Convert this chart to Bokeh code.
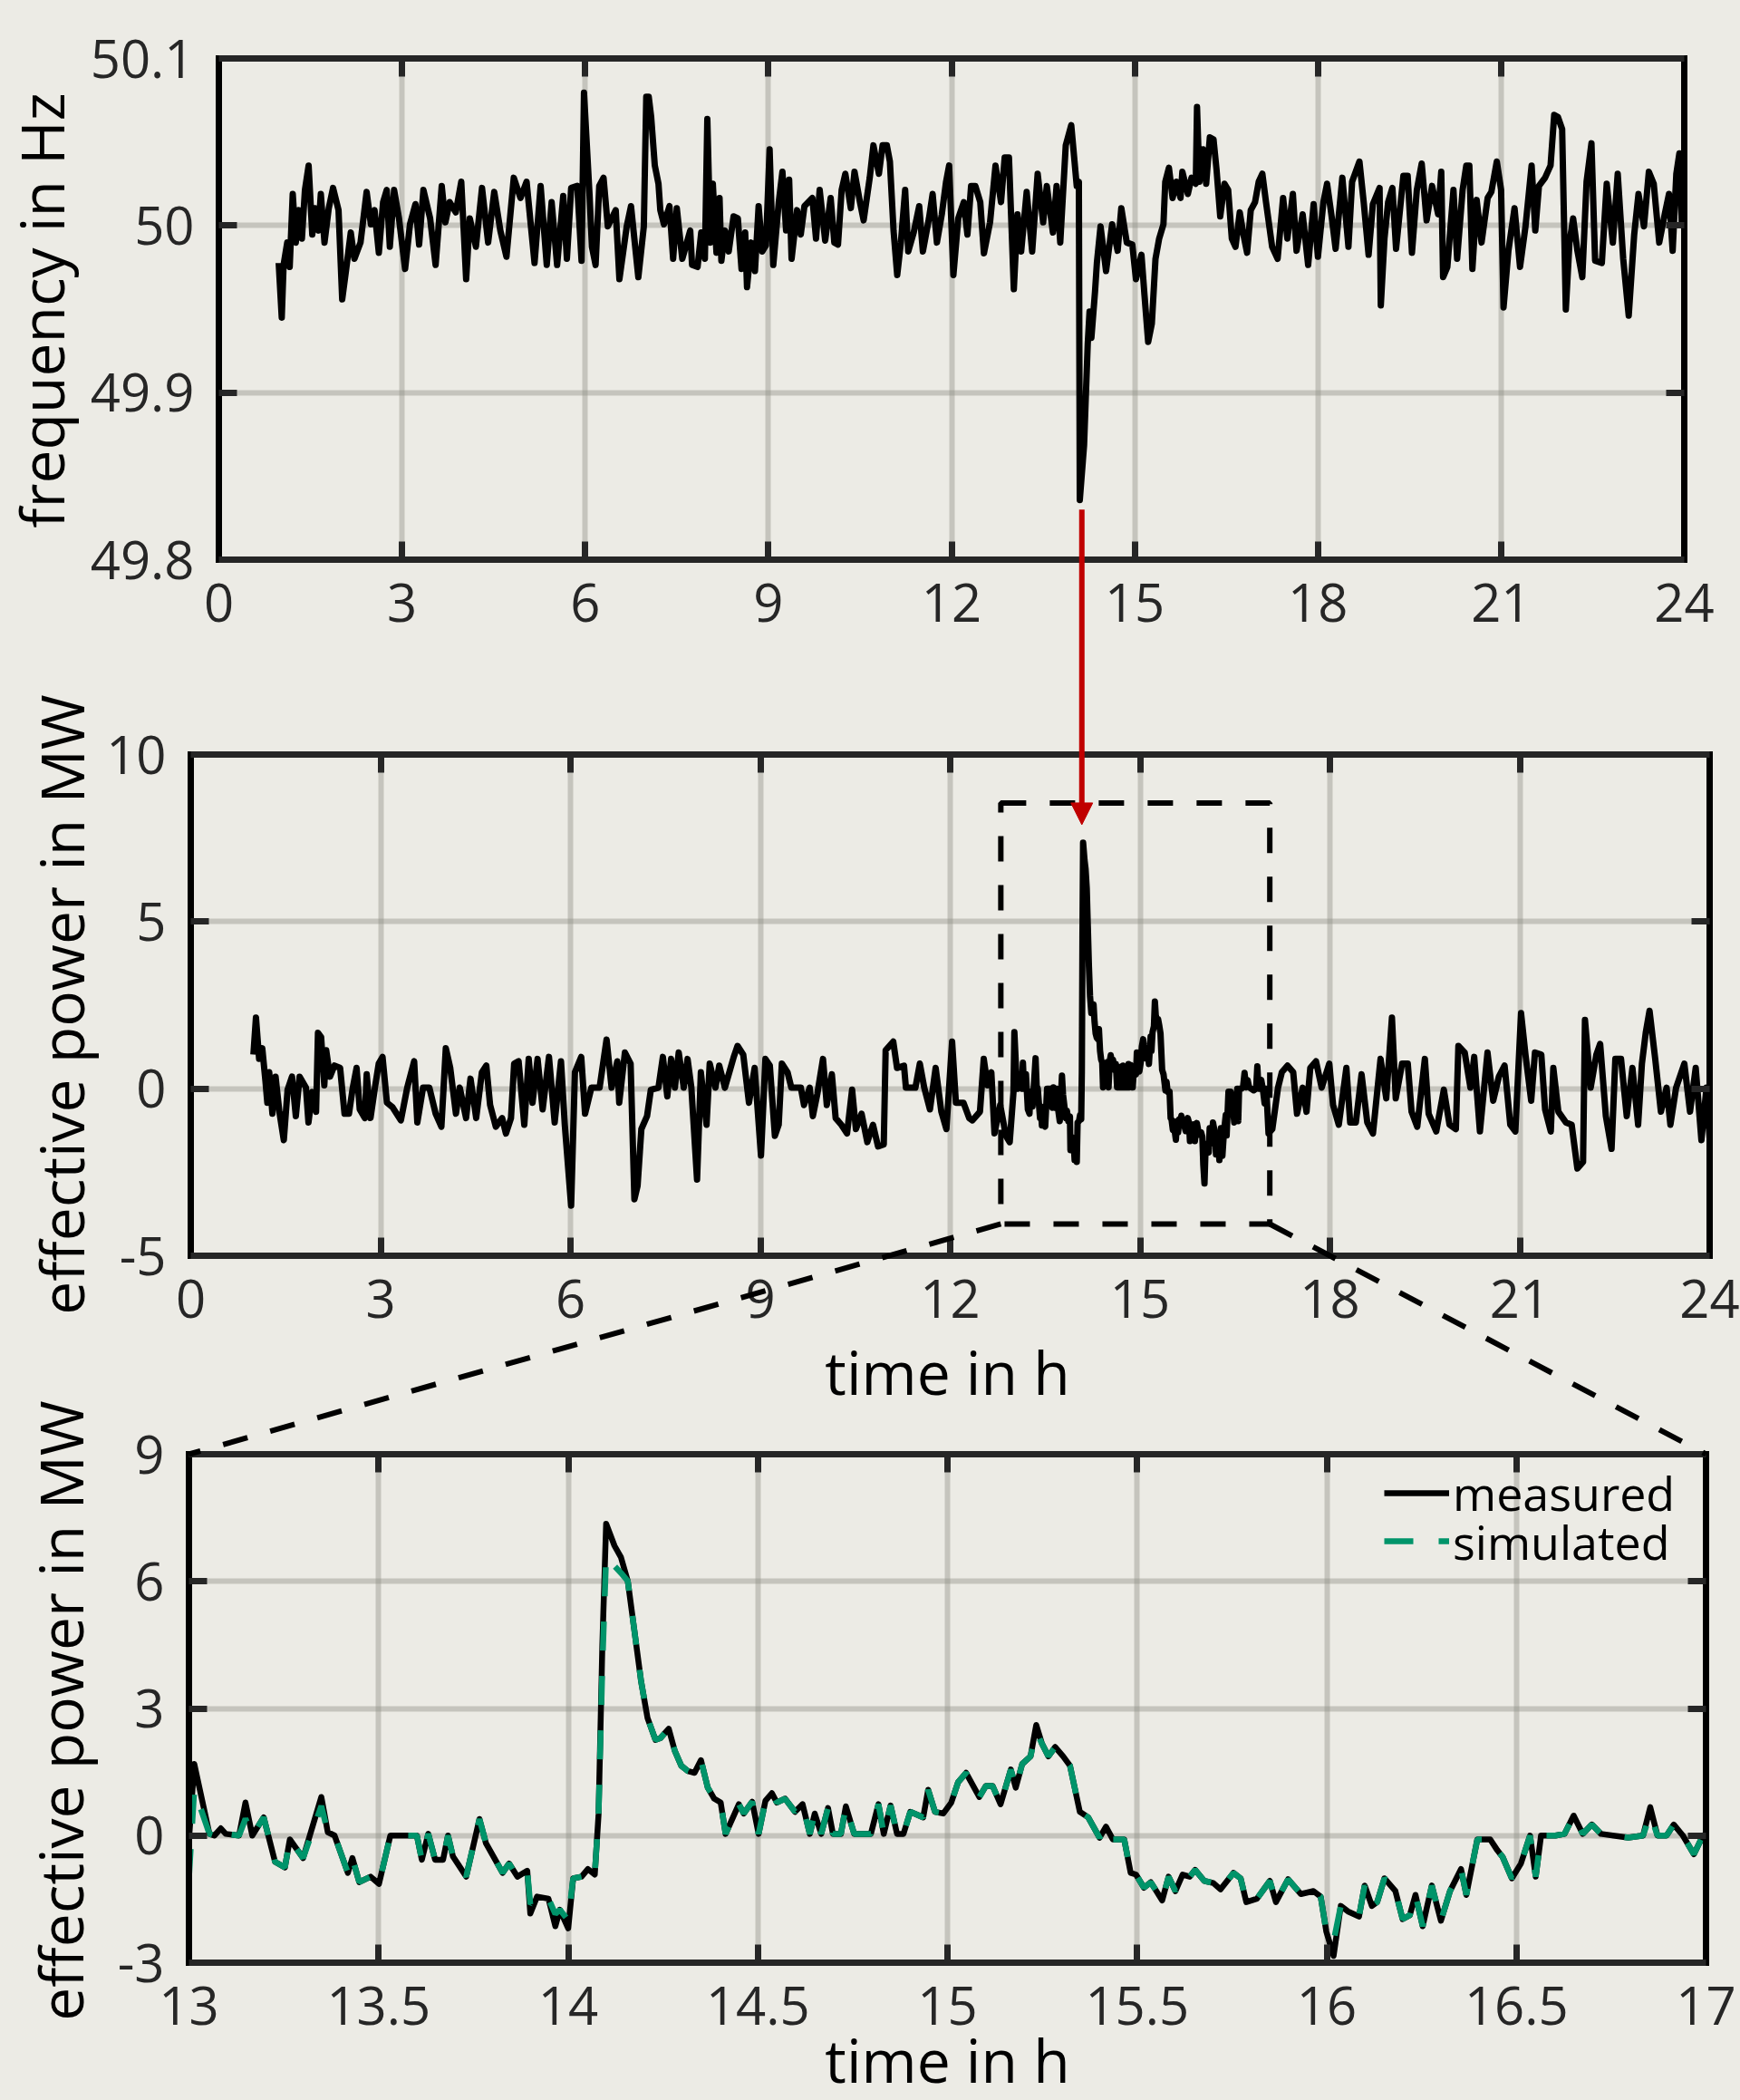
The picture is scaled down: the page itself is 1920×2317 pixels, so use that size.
import math
from bokeh.plotting import figure
from bokeh.models import (Range1d, LinearAxis, FixedTicker, Grid, Arrow, NormalHead,
                          Legend, LegendItem, CustomJSTickFormatter, Label)
from bokeh.embed import file_html
from bokeh.resources import INLINE

# ---------------------------------------------------------------- data
# grid frequency over the day (hour, Hz)
FREQ = [
 (0.98, 49.9776), (1.03, 49.9449), (1.06, 49.9764), (1.12, 49.9898), (1.16, 49.9752), (1.21, 50.0189),
 (1.26, 49.9898), (1.31, 50.0092), (1.36, 49.9922), (1.41, 50.0213), (1.47, 50.0359), (1.53, 49.9946),
 (1.58, 50.0104), (1.63, 49.9970), (1.67, 50.0189), (1.73, 49.9898), (1.80, 50.0104), (1.87, 50.0225),
 (1.96, 50.0092), (2.02, 49.9558), (2.09, 49.9752), (2.16, 49.9958), (2.22, 49.9801), (2.32, 49.9898),
 (2.42, 50.0201), (2.49, 50.0007), (2.55, 50.0092), (2.62, 49.9837), (2.69, 50.0140), (2.75, 50.0213),
 (2.80, 49.9873), (2.87, 50.0213), (2.95, 50.0043), (3.05, 49.9740), (3.13, 50.0007), (3.22, 50.0128),
 (3.28, 49.9886), (3.35, 50.0213), (3.46, 50.0043), (3.55, 49.9764), (3.65, 50.0237), (3.71, 50.0019),
 (3.78, 50.0140), (3.88, 50.0079), (3.97, 50.0262), (4.05, 49.9679), (4.11, 50.0043), (4.21, 49.9873),
 (4.31, 50.0225), (4.41, 49.9898), (4.51, 50.0201), (4.61, 49.9970), (4.71, 49.9813), (4.83, 50.0286),
 (4.94, 50.0165), (5.04, 50.0262), (5.17, 49.9776), (5.27, 50.0237), (5.37, 49.9764), (5.45, 50.0140),
 (5.54, 49.9764), (5.64, 50.0177), (5.70, 49.9801), (5.77, 50.0225), (5.87, 50.0237), (5.94, 49.9789),
 (5.98, 50.0795), (6.07, 50.0189), (6.11, 49.9873), (6.17, 49.9764), (6.23, 50.0237), (6.30, 50.0286),
 (6.37, 49.9995), (6.50, 50.0092), (6.56, 49.9679), (6.68, 49.9995), (6.75, 50.0116), (6.87, 49.9691),
 (6.96, 49.9995), (7.00, 50.0771), (7.04, 50.0771), (7.08, 50.0650), (7.14, 50.0359), (7.20, 50.0250),
 (7.23, 50.0092), (7.29, 50.0007), (7.38, 50.0116), (7.44, 49.9801), (7.50, 50.0104), (7.59, 49.9801),
 (7.72, 49.9970), (7.75, 49.9764), (7.84, 49.9752), (7.90, 49.9958), (7.96, 49.9801), (8.00, 50.0638),
 (8.05, 49.9898), (8.09, 50.0250), (8.15, 49.9837), (8.20, 50.0165), (8.23, 49.9789), (8.29, 49.9970),
 (8.35, 49.9845), (8.43, 50.0055), (8.50, 50.0043), (8.56, 49.9740), (8.62, 49.9958), (8.65, 49.9631),
 (8.72, 49.9898), (8.78, 49.9728), (8.84, 50.0116), (8.90, 49.9845), (8.96, 49.9881), (9.02, 50.0456),
 (9.08, 49.9764), (9.17, 50.0140), (9.23, 50.0322), (9.29, 49.9970), (9.34, 50.0274), (9.38, 49.9801),
 (9.47, 50.0092), (9.53, 49.9946), (9.59, 50.0116), (9.72, 50.0165), (9.78, 49.9922), (9.84, 50.0213),
 (9.93, 49.9910), (10.02, 50.0165), (10.08, 49.9898), (10.14, 49.9886), (10.20, 50.0213), (10.26, 50.0310),
 (10.35, 50.0104), (10.41, 50.0322), (10.50, 50.0140), (10.56, 50.0031), (10.66, 50.0286), (10.72, 50.0480),
 (10.81, 50.0310), (10.87, 50.0480), (10.94, 50.0480), (10.99, 50.0383), (11.05, 49.9970), (11.11, 49.9704),
 (11.17, 49.9898), (11.24, 50.0213), (11.29, 49.9845), (11.38, 49.9958), (11.47, 50.0116), (11.53, 49.9845),
 (11.63, 50.0043), (11.69, 50.0189), (11.76, 49.9898), (11.84, 50.0067), (11.91, 50.0262), (11.96, 50.0359),
 (12.03, 49.9704), (12.11, 50.0043), (12.20, 50.0140), (12.26, 49.9946), (12.32, 50.0237), (12.39, 50.0237),
 (12.47, 50.0140), (12.53, 49.9833), (12.63, 50.0019), (12.72, 50.0359), (12.81, 50.0140), (12.87, 50.0407),
 (12.94, 50.0407), (13.02, 49.9619), (13.08, 50.0067), (13.14, 49.9845), (13.23, 50.0201), (13.32, 49.9845),
 (13.41, 50.0310), (13.50, 50.0019), (13.56, 50.0237), (13.66, 49.9958), (13.72, 50.0237), (13.78, 49.9898),
 (13.87, 50.0480), (13.96, 50.0601), (14.05, 50.0237), (14.085, 50.0262), (14.10, 49.8357), (14.17, 49.8685),
 (14.23, 49.9291), (14.26, 49.9485), (14.29, 49.9328), (14.35, 49.9607), (14.38, 49.9776), (14.44, 49.9995),
 (14.53, 49.9728), (14.63, 50.0007), (14.72, 49.9849), (14.78, 50.0104), (14.87, 49.9898), (14.96, 49.9886),
 (15.02, 49.9679), (15.11, 49.9825), (15.16, 49.9582), (15.22, 49.9303), (15.28, 49.9413), (15.34, 49.9801),
 (15.40, 49.9922), (15.47, 50.0007), (15.50, 50.0262), (15.56, 50.0346), (15.62, 50.0165), (15.68, 50.0262),
 (15.75, 50.0165), (15.78, 50.0322), (15.87, 50.0189), (15.93, 50.0286), (16.00, 50.0250), (16.02, 50.0710),
 (16.06, 50.0262), (16.12, 50.0456), (16.17, 50.0250), (16.23, 50.0528), (16.29, 50.0516), (16.34, 50.0334),
 (16.40, 50.0055), (16.47, 50.0250), (16.53, 50.0213), (16.59, 49.9922), (16.65, 49.9873), (16.72, 50.0079),
 (16.78, 49.9946), (16.84, 49.9837), (16.90, 50.0092), (16.97, 50.0140), (17.03, 50.0262), (17.09, 50.0310),
 (17.15, 50.0140), (17.25, 49.9873), (17.34, 49.9801), (17.43, 50.0165), (17.50, 49.9922), (17.59, 50.0189),
 (17.65, 49.9849), (17.75, 50.0067), (17.84, 49.9764), (17.93, 50.0128), (18.00, 49.9813), (18.09, 50.0140),
 (18.15, 50.0250), (18.22, 50.0067), (18.29, 49.9861), (18.40, 50.0286), (18.50, 49.9873), (18.56, 50.0262),
 (18.68, 50.0383), (18.75, 50.0140), (18.83, 49.9825), (18.90, 50.0128), (19.01, 50.0225), (19.03, 49.9522),
 (19.09, 49.9922), (19.15, 50.0140), (19.22, 50.0225), (19.28, 49.9861), (19.40, 50.0298), (19.47, 50.0298),
 (19.54, 49.9837), (19.62, 50.0213), (19.70, 50.0371), (19.78, 50.0031), (19.87, 50.0237), (19.97, 50.0067),
 (20.02, 50.0322), (20.05, 49.9691), (20.12, 49.9752), (20.22, 50.0213), (20.28, 49.9801), (20.37, 50.0213),
 (20.43, 50.0359), (20.48, 50.0359), (20.53, 49.9740), (20.60, 50.0153), (20.68, 49.9898), (20.78, 50.0165),
 (20.84, 50.0201), (20.93, 50.0383), (21.00, 50.0213), (21.04, 49.9510), (21.12, 49.9849), (21.22, 50.0104),
 (21.31, 49.9752), (21.40, 49.9995), (21.50, 50.0359), (21.56, 49.9970), (21.62, 50.0237), (21.72, 50.0286),
 (21.81, 50.0359), (21.87, 50.0662), (21.93, 50.0650), (22.00, 50.0577), (22.06, 49.9497), (22.12, 49.9898),
 (22.18, 50.0043), (22.25, 49.9849), (22.33, 49.9691), (22.40, 50.0262), (22.48, 50.0492), (22.54, 49.9789),
 (22.65, 49.9776), (22.73, 50.0250), (22.83, 49.9898), (22.91, 50.0310), (23.00, 49.9801), (23.09, 49.9461),
 (23.18, 49.9946), (23.25, 50.0189), (23.34, 49.9995), (23.42, 50.0322), (23.50, 50.0250), (23.59, 49.9898),
 (23.68, 50.0067), (23.75, 50.0189), (23.81, 49.9849), (23.87, 50.0310), (23.92, 50.0432), (23.96, 50.0007),
]

# effective power over the day, before the zoom window (hour, MW)
POWER_EARLY = [
 (0.99, 1.02), (1.03, 2.13), (1.08, 0.89), (1.13, 1.21), (1.18, 0.23), (1.21, -0.42), (1.24, 0.49),
 (1.29, -0.75), (1.34, 0.36), (1.40, -0.69), (1.47, -1.54), (1.53, -0.03), (1.60, 0.36), (1.66, -0.82),
 (1.72, 0.36), (1.82, 0.03), (1.86, -1.01), (1.92, -0.10), (1.98, -0.69), (2.01, 1.67), (2.06, 1.54),
 (2.11, 0.10), (2.14, 1.15), (2.20, 0.36), (2.27, 0.69), (2.36, 0.62), (2.43, -0.75), (2.50, -0.75),
 (2.56, 0.03), (2.62, 0.62), (2.67, -0.62), (2.75, -0.88), (2.78, 0.43), (2.84, -0.88), (2.91, 0.03),
 (2.97, 0.75), (3.03, 0.95), (3.10, -0.42), (3.19, -0.56), (3.32, -0.95), (3.42, 0.03), (3.53, 0.82),
 (3.58, -1.01), (3.67, 0.03), (3.77, 0.03), (3.87, -0.75), (3.96, -1.14), (4.03, 1.21), (4.10, 0.62),
 (4.19, -0.75), (4.25, 0.03), (4.35, -0.88), (4.42, 0.30), (4.51, -0.88), (4.60, 0.49), (4.67, 0.69),
 (4.73, -0.49), (4.82, -1.14), (4.92, -0.88), (4.98, -1.34), (5.06, -0.88), (5.11, 0.75), (5.18, 0.82),
 (5.27, -1.08), (5.34, 0.89), (5.40, -0.42), (5.48, 0.89), (5.56, -0.62), (5.66, 0.95), (5.75, -1.01),
 (5.85, 0.82), (5.91, -1.08), (6.01, -3.50), (6.07, 0.49), (6.17, 0.95), (6.23, -0.75), (6.33, 0.03),
 (6.46, 0.03), (6.57, 1.47), (6.65, 0.03), (6.74, 0.82), (6.77, -0.42), (6.86, 1.08), (6.95, 0.75),
 (7.01, -3.31), (7.06, -2.91), (7.12, -1.21), (7.21, -0.82), (7.27, -0.03), (7.39, 0.03), (7.46, 0.95),
 (7.53, -0.23), (7.59, 0.89), (7.65, 0.03), (7.71, 1.08), (7.79, 0.03), (7.85, 0.89), (7.91, 0.03),
 (8.00, -2.72), (8.06, 0.49), (8.15, -1.08), (8.20, 0.75), (8.29, 0.03), (8.35, 0.69), (8.44, 0.03),
 (8.53, 0.62), (8.58, 0.95), (8.64, 1.28), (8.73, 1.02), (8.82, -0.42), (8.91, 0.62), (9.01, -2.00),
 (9.08, 0.89), (9.15, 0.69), (9.23, -1.41), (9.29, -1.08), (9.34, 0.75), (9.43, 0.49), (9.49, 0.03),
 (9.64, 0.03), (9.69, -0.49), (9.78, 0.03), (9.83, -0.82), (9.90, -0.16), (9.99, 0.89), (10.05, -0.49),
 (10.13, 0.43), (10.19, -0.88), (10.28, -1.08), (10.37, -1.34), (10.45, -0.03), (10.51, -1.21),
 (10.60, -0.75), (10.69, -1.60), (10.78, -1.08), (10.86, -1.73), (10.95, -1.67), (10.98, 1.15),
 (11.10, 1.41), (11.16, 0.62), (11.27, 0.69), (11.30, 0.03), (11.45, 0.03), (11.52, 0.75), (11.59, 0.03),
 (11.68, -0.62), (11.77, 0.62), (11.86, -0.69), (11.94, -1.21), (12.03, 1.41), (12.09, -0.42),
 (12.21, -0.42), (12.30, -0.88), (12.35, -0.95), (12.47, -0.69), (12.53, 0.89), (12.59, 0.10),
 (12.65, 0.49), (12.70, -1.34), (12.79, -0.49), (12.88, -1.41), (12.94, -1.60),
]

# zoom window 13 h .. 17 h: measured and simulated effective power (MW)
ZOOM_T = [13.000, 13.014, 13.054, 13.067, 13.084, 13.097, 13.132, 13.149, 13.167, 13.197,
          13.227, 13.253, 13.266, 13.301, 13.349, 13.366, 13.384, 13.419, 13.431, 13.449,
          13.479, 13.501, 13.531, 13.601, 13.614, 13.631, 13.649, 13.670, 13.683, 13.696,
          13.731, 13.766, 13.783, 13.827, 13.844, 13.866, 13.892, 13.900, 13.918, 13.948,
          13.966, 13.978, 14.000, 14.013, 14.035, 14.052, 14.070, 14.080, 14.090, 14.100,
          14.122, 14.139, 14.157, 14.174, 14.192, 14.209, 14.230, 14.243, 14.265, 14.281,
          14.298, 14.316, 14.333, 14.350, 14.368, 14.385, 14.402, 14.415, 14.450, 14.463,
          14.485, 14.502, 14.520, 14.537, 14.550, 14.572, 14.598, 14.618, 14.637, 14.650,
          14.667, 14.685, 14.698, 14.719, 14.732, 14.754, 14.798, 14.818, 14.832, 14.850,
          14.867, 14.884, 14.902, 14.936, 14.949, 14.967, 14.989, 15.010, 15.028, 15.049,
          15.084, 15.101, 15.119, 15.140, 15.167, 15.180, 15.197, 15.219, 15.234, 15.249,
          15.266, 15.284, 15.305, 15.323, 15.349, 15.371, 15.401, 15.418, 15.436, 15.466,
          15.483, 15.497, 15.518, 15.536, 15.566, 15.583, 15.601, 15.620, 15.639, 15.653,
          15.677, 15.701, 15.720, 15.754, 15.773, 15.788, 15.816, 15.850, 15.866, 15.898,
          15.932, 15.965, 15.984, 15.999, 16.018, 16.037, 16.056, 16.085, 16.100, 16.119,
          16.133, 16.152, 16.181, 16.200, 16.219, 16.234, 16.253, 16.277, 16.301, 16.325,
          16.354, 16.368, 16.397, 16.431, 16.450, 16.464, 16.488, 16.512, 16.536, 16.551,
          16.565, 16.603, 16.627, 16.651, 16.675, 16.699, 16.723, 16.795, 16.834, 16.853,
          16.872, 16.896, 16.915, 16.939, 16.968, 16.992, 17.000]
ZOOM_MEASURED = [-0.10, 1.69, 0.04, 0.00, 0.17, 0.04, 0.00, 0.78, 0.00, 0.43,
                 -0.62, -0.75, -0.09, -0.53, 0.91, 0.08, 0.00, -0.88, -0.53, -1.10,
                 -0.97, -1.14, 0.00, 0.00, -0.57, 0.04, -0.57, -0.57, 0.00, -0.49,
                 -0.97, 0.39, -0.18, -0.88, -0.66, -0.97, -0.83, -1.84, -1.44, -1.49,
                 -2.14, -1.75, -2.19, -1.01, -0.97, -0.79, -0.92, 0.50, 4.50, 7.36,
                 6.84, 6.57, 6.01, 4.87, 3.65, 2.78, 2.26, 2.30, 2.52, 2.00,
                 1.65, 1.52, 1.48, 1.78, 1.13, 0.87, 0.78, 0.04, 0.74, 0.52,
                 0.80, 0.04, 0.82, 1.00, 0.78, 0.87, 0.56, 0.74, 0.04, 0.52,
                 0.04, 0.65, 0.04, 0.04, 0.69, 0.04, 0.04, 0.74, 0.04, 0.71,
                 0.04, 0.04, 0.56, 0.43, 1.08, 0.56, 0.52, 0.78, 1.26, 1.48,
                 0.91, 1.17, 1.17, 0.74, 1.56, 1.13, 1.69, 1.87, 2.61, 2.17,
                 1.87, 2.09, 1.87, 1.65, 0.56, 0.43, -0.05, 0.21, -0.09, -0.09,
                 -0.88, -0.92, -1.23, -1.10, -1.53, -0.97, -1.31, -0.92, -0.97, -0.81,
                 -1.07, -1.12, -1.27, -0.88, -1.01, -1.57, -1.49, -1.07, -1.57, -1.03,
                 -1.38, -1.31, -1.44, -2.27, -2.84, -1.66, -1.79, -1.91, -1.18, -1.66,
                 -1.57, -1.01, -1.31, -1.97, -1.88, -1.40, -2.14, -1.18, -2.01, -1.31,
                 -0.79, -1.40, -0.09, -0.09, -0.35, -0.51, -1.01, -0.66, 0.00, -0.97,
                 0.00, 0.00, 0.04, 0.47, 0.04, 0.26, 0.04, -0.05, 0.00, 0.67,
                 0.00, 0.00, 0.26, 0.00, -0.44, 0.00, -0.20]
ZOOM_SIMULATED = [-1.00, 1.08, 0.04, 0.00, 0.17, 0.04, 0.00, 0.40, 0.00, 0.43,
                  -0.62, -0.75, -0.09, -0.53, 0.70, 0.08, 0.00, -0.88, -0.53, -1.10,
                  -0.97, -1.14, 0.00, 0.00, -0.57, 0.04, -0.57, -0.57, 0.00, -0.49,
                  -0.97, 0.39, -0.18, -0.88, -0.66, -0.97, -0.83, -1.62, -1.44, -1.49,
                  -1.85, -1.75, -2.00, -1.01, -0.97, -0.79, -0.92, 0.50, 4.00, 6.60,
                  6.36, 6.20, 6.01, 4.87, 3.65, 2.78, 2.26, 2.30, 2.52, 2.00,
                  1.65, 1.52, 1.48, 1.78, 1.13, 0.87, 0.78, 0.04, 0.74, 0.52,
                  0.80, 0.04, 0.82, 1.00, 0.78, 0.87, 0.56, 0.74, 0.04, 0.52,
                  0.04, 0.65, 0.04, 0.04, 0.69, 0.04, 0.04, 0.74, 0.04, 0.71,
                  0.04, 0.04, 0.56, 0.43, 1.08, 0.56, 0.52, 0.78, 1.26, 1.48,
                  0.91, 1.17, 1.17, 0.74, 1.56, 1.13, 1.69, 1.87, 2.45, 2.17,
                  1.87, 2.09, 1.87, 1.65, 0.56, 0.43, -0.05, 0.21, -0.09, -0.09,
                  -0.88, -0.92, -1.23, -1.10, -1.53, -0.97, -1.31, -0.92, -0.97, -0.81,
                  -1.07, -1.12, -1.27, -0.88, -1.01, -1.57, -1.49, -1.07, -1.57, -1.03,
                  -1.38, -1.31, -1.44, -2.27, -2.50, -1.66, -1.79, -1.91, -1.18, -1.66,
                  -1.57, -1.01, -1.31, -1.97, -1.88, -1.40, -2.14, -1.18, -2.01, -1.31,
                  -0.79, -1.40, -0.09, -0.09, -0.35, -0.51, -1.01, -0.66, 0.00, -0.97,
                  0.00, 0.00, 0.04, 0.47, 0.04, 0.26, 0.04, -0.05, 0.00, 0.50,
                  0.00, 0.00, 0.26, 0.00, -0.44, 0.00, -0.20]

# effective power over the day, after the zoom window (hour, MW)
POWER_LATE = [
 (17.03, -1.34), (17.09, -1.21), (17.18, 0.03), (17.24, 0.49), (17.33, 0.69), (17.42, 0.49),
 (17.48, -0.75), (17.57, 0.03), (17.63, -0.69), (17.69, 0.62), (17.78, 0.82), (17.87, 0.03),
 (17.99, 0.75), (18.05, -0.49), (18.14, -1.08), (18.26, 0.62), (18.32, -1.01), (18.41, -1.01),
 (18.50, 0.43), (18.59, -1.01), (18.68, -1.34), (18.80, 0.89), (18.89, -0.29), (18.98, 2.13),
 (19.04, -0.29), (19.14, 0.75), (19.23, 0.75), (19.29, -0.69), (19.38, -1.14), (19.50, 0.89),
 (19.56, -0.75), (19.68, -1.28), (19.80, -0.03), (19.89, -1.08), (19.99, -1.21), (20.03, 1.28),
 (20.13, 1.08), (20.22, 0.03), (20.28, 0.95), (20.37, -1.28), (20.49, 1.08), (20.58, -0.36),
 (20.67, 0.36), (20.76, 0.69), (20.85, -1.08), (20.93, -1.28), (21.02, 2.26), (21.09, 1.02),
 (21.18, -0.36), (21.24, 1.08), (21.34, 1.02), (21.40, -0.62), (21.49, -1.28), (21.53, 0.62),
 (21.61, -0.69), (21.73, -1.01), (21.82, -1.08), (21.91, -2.39), (22.00, -2.19), (22.03, 2.06),
 (22.12, 0.03), (22.21, 1.02), (22.27, 1.34), (22.36, -0.82), (22.45, -1.80), (22.51, 0.89),
 (22.60, 0.89), (22.69, -0.82), (22.78, 0.62), (22.87, -1.08), (22.93, 0.75), (22.99, 1.67),
 (23.05, 2.33), (23.14, 0.89), (23.23, -0.69), (23.32, 0.03), (23.38, -1.08), (23.47, 0.03),
 (23.60, 0.75), (23.69, -0.69), (23.78, 0.62), (23.87, -1.54), (23.95, 0.03), (24.00, -1.50),
]

DAY_TICKS = [0, 3, 6, 9, 12, 15, 18, 21, 24]
FREQ_TICKS = [49.8, 49.9, 50.0, 50.1]
POWER_DAY_TICKS = [-5, 0, 5, 10]
ZOOM_TICKS = [13, 13.5, 14, 14.5, 15, 15.5, 16, 16.5, 17]
POWER_ZOOM_TICKS = [-3, 0, 3, 6, 9]

ZOOM_WINDOW_T = (12.8, 17.05)      # dashed box on the day plot (h)
ZOOM_WINDOW_P = (-4.05, 8.55)      # (MW)
ARROW_T = 14.08                    # time of the event (h)
ARROW_F_START = 49.830             # arrow starts just below the frequency dip (Hz)
ARROW_P_TIP = 7.9                  # arrow tip just above the power peak (MW)

# ---------------------------------------------------------------- style / layout
BG = "#ECEBE5"
RED = "#C00000"
GREEN = "#00946A"
FONT = "Open Sans"
TICK_FS = "58px"
LABEL_FS = "66px"
W, H = 1920, 2316

# panel boxes in canvas pixels: left, right, top, bottom ; and their data limits
BOX_A, XL_A, YL_A = (241, 1858, 64, 617), (0, 24), (49.8, 50.1)
BOX_B, XL_B, YL_B = (210, 1886, 832, 1385), (0, 24), (-5, 10)
BOX_C, XL_C, YL_C = (208, 1882, 1604, 2165), (13, 17), (-3, 9)

# axis-title anchors (canvas pixels)
YTITLE_A = (44, 342)
YTITLE_B = (66, 1108)
YTITLE_C = (65, 1887)
XTITLE_B = (1045, 1512)
XTITLE_C = (1045, 2271)


def ranges_for(box, xl, yl):
    L, R, T, B = box
    sx = (R - L) / (xl[1] - xl[0])
    sy = (B - T) / (yl[1] - yl[0])
    return (Range1d(xl[0] - L / sx, xl[1] + (W - R) / sx),
            Range1d(yl[0] - (H - B) / sy, yl[1] + T / sy))


def px_x(box, xl, x):
    return box[0] + (x - xl[0]) * (box[1] - box[0]) / (xl[1] - xl[0])


def px_y(box, yl, y):
    return box[3] - (y - yl[0]) * (box[3] - box[2]) / (yl[1] - yl[0])


p = figure(frame_width=W, frame_height=H, min_border=0, min_border_left=0, min_border_right=0,
           min_border_top=0, min_border_bottom=0, x_range=Range1d(0, W), y_range=Range1d(H, 0),
           x_axis_type=None, y_axis_type=None, toolbar_location=None, output_backend="svg",
           background_fill_color=BG, border_fill_color=BG, outline_line_color=None)
p.title.visible = False

xa, ya = ranges_for(BOX_A, XL_A, YL_A)
xb, yb = ranges_for(BOX_B, XL_B, YL_B)
xc, yc = ranges_for(BOX_C, XL_C, YL_C)
p.extra_x_ranges = {"tA": xa, "tB": xb, "tC": xc}
p.extra_y_ranges = {"fA": ya, "pB": yb, "pC": yc}

FMT = "return String(Math.round(tick*10)/10);"
HAS_CROSS = "cross_bounds" in Grid.properties()
GRID_COLOR, GRID_ALPHA, GRID_W = "#8E8E86", 0.42, 6


def styled_axis(ticks, loc, bounds, color, labels, xn, yn, standoff=0):
    ax = LinearAxis(ticker=FixedTicker(ticks=ticks), fixed_location=loc, bounds=bounds,
                    x_range_name=xn, y_range_name=yn,
                    formatter=CustomJSTickFormatter(code=FMT))
    ax.axis_line_color = color
    ax.axis_line_width = 7
    ax.axis_line_cap = "square"
    ax.major_tick_line_color = "#262626"
    ax.major_tick_line_width = 7
    ax.major_tick_in = 20
    ax.major_tick_out = 0
    ax.minor_tick_line_color = None
    ax.major_label_standoff = standoff
    ax.major_label_text_font = FONT
    ax.major_label_text_font_size = TICK_FS
    ax.major_label_text_color = "#262626" if labels else None
    return ax


def panel(xn, yn, xl, yl, xt, yt):
    if HAS_CROSS:
        for dim, ticks, cb in ((0, xt, yl), (1, yt, xl)):
            g = Grid(dimension=dim, ticker=FixedTicker(ticks=ticks), x_range_name=xn,
                     y_range_name=yn, cross_bounds=cb, grid_line_color=GRID_COLOR,
                     grid_line_alpha=GRID_ALPHA, grid_line_width=GRID_W)
            p.add_layout(g, "center")
    else:
        gs = dict(line_color=GRID_COLOR, line_alpha=GRID_ALPHA, line_width=GRID_W)
        p.segment(x0=xt, y0=[yl[0]] * len(xt), x1=xt, y1=[yl[1]] * len(xt),
                  x_range_name=xn, y_range_name=yn, level="underlay", **gs)
        p.segment(x0=[xl[0]] * len(yt), y0=yt, x1=[xl[1]] * len(yt), y1=yt,
                  x_range_name=xn, y_range_name=yn, level="underlay", **gs)
    p.add_layout(styled_axis(yt, xl[0], yl, "black", True, xn, yn, 27), "left")
    p.add_layout(styled_axis(yt, xl[1], yl, "black", False, xn, yn), "right")
    p.add_layout(styled_axis(xt, yl[0], xl, "#262626", True, xn, yn, 26), "below")
    p.add_layout(styled_axis(xt, yl[1], xl, "#262626", False, xn, yn), "above")


def title(text, pos, vertical):
    p.add_layout(Label(x=pos[0], y=pos[1], text=text, angle=math.pi / 2 if vertical else 0,
                       text_align="center", text_baseline="alphabetic", text_font=FONT,
                       text_font_size=LABEL_FS, text_color="black"))


# ---------------------------------------------------------------- top: frequency
panel("tA", "fA", XL_A, YL_A, DAY_TICKS, FREQ_TICKS)
p.line([a for a, _ in FREQ], [b for _, b in FREQ], x_range_name="tA", y_range_name="fA",
       line_color="black", line_width=7, line_join="round")
title("frequency in Hz", YTITLE_A, True)

# ---------------------------------------------------------------- middle: day power
panel("tB", "pB", XL_B, YL_B, DAY_TICKS, POWER_DAY_TICKS)
day_t = [a for a, _ in POWER_EARLY] + ZOOM_T + [a for a, _ in POWER_LATE]
day_p = [b for _, b in POWER_EARLY] + ZOOM_MEASURED + [b for _, b in POWER_LATE]
p.line(day_t, day_p, x_range_name="tB", y_range_name="pB", line_color="black",
       line_width=7, line_join="round")
p.quad(left=[ZOOM_WINDOW_T[0]], right=[ZOOM_WINDOW_T[1]], bottom=[ZOOM_WINDOW_P[0]],
       top=[ZOOM_WINDOW_P[1]], x_range_name="tB", y_range_name="pB", fill_color=None,
       line_color="black", line_width=6, line_dash="28 26")
title("effective power in MW", YTITLE_B, True)
title("time in h", XTITLE_B, False)

# ---------------------------------------------------------------- bottom: zoom
panel("tC", "pC", XL_C, YL_C, ZOOM_TICKS, POWER_ZOOM_TICKS)
r_meas = p.line(ZOOM_T, ZOOM_MEASURED, x_range_name="tC", y_range_name="pC",
                line_color="black", line_width=6.5, line_join="round")
r_sim = p.line(ZOOM_T, ZOOM_SIMULATED, x_range_name="tC", y_range_name="pC",
               line_color=GREEN, line_width=6.5, line_dash="32 28")
title("effective power in MW", YTITLE_C, True)
title("time in h", XTITLE_C, False)

# ---------------------------------------------------------------- connectors
corner_y = px_y(BOX_B, YL_B, ZOOM_WINDOW_P[0])
p.segment(x0=[px_x(BOX_B, XL_B, ZOOM_WINDOW_T[0]), px_x(BOX_B, XL_B, ZOOM_WINDOW_T[1])],
          y0=[corner_y, corner_y], x1=[BOX_C[0], BOX_C[1]], y1=[BOX_C[2], BOX_C[2]],
          line_color="black", line_width=6, line_dash="28 26", level="overlay")
arrow_x = px_x(BOX_B, XL_B, ARROW_T)
p.add_layout(Arrow(end=NormalHead(size=24, fill_color=RED, line_color=RED, line_width=1),
                   x_start=arrow_x, y_start=px_y(BOX_A, YL_A, ARROW_F_START),
                   x_end=arrow_x, y_end=px_y(BOX_B, YL_B, ARROW_P_TIP),
                   line_color=RED, line_width=6))

# ---------------------------------------------------------------- legend
for lbl, rend, cy in (("measured", r_meas, 1646.5), ("simulated", r_sim, 1700)):
    leg = Legend(items=[LegendItem(label=lbl, renderers=[rend])],
                 location=(1527, H - (cy + 40)),
                 background_fill_alpha=0, border_line_color=None, padding=0, margin=0,
                 spacing=0, glyph_width=72, glyph_height=80, label_height=80,
                 label_standoff=4, label_text_font=FONT, label_text_font_size="52px",
                 label_text_color="black")
    p.add_layout(leg, "center")

try:
    from bokeh.models import GlobalInlineStyleSheet
    p.stylesheets = [GlobalInlineStyleSheet(css="html, body { background-color: %s; margin: 0; }" % BG)]
except Exception:
    pass

open("out.html", "w").write(file_html(p, INLINE))
